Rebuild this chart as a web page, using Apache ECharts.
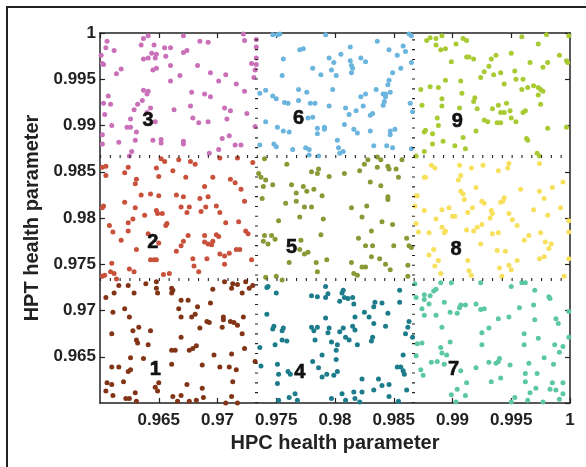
<!DOCTYPE html>
<html>
<head>
<meta charset="utf-8">
<script src="https://cdn.jsdelivr.net/npm/echarts@6/dist/echarts.min.js"></script>
<style>
  html, body { margin: 0; padding: 0; background: #fff; }
  #health-chart { width: 586px; height: 467px; }
</style>
</head>
<body>
<div id="health-chart"></div>
<script>
// points, one array per operating region [HPC, HPT]
const region1 = [[0.9616,0.9727],[0.9624,0.9727],[0.9639,0.9729],[0.9648,0.9731],[0.9648,0.9724],[0.9649,0.9719],[0.9629,0.9719],[0.9612,0.9719],[0.9605,0.9714],[0.9661,0.9724],[0.9662,0.9722],[0.9661,0.9719],[0.9669,0.9711],[0.9675,0.9711],[0.9667,0.9702],[0.9683,0.9704],[0.9681,0.9696],[0.9678,0.9693],[0.9669,0.9693],[0.9696,0.9723],[0.9706,0.9731],[0.9713,0.9729],[0.9712,0.9724],[0.9717,0.9728],[0.9724,0.9731],[0.9730,0.9727],[0.9727,0.9724],[0.9721,0.9719],[0.9694,0.9708],[0.9621,0.9702],[0.9625,0.9693],[0.9611,0.9698],[0.9691,0.9688],[0.9693,0.9687],[0.9685,0.9681],[0.9705,0.9693],[0.9705,0.9690],[0.9704,0.9682],[0.9711,0.9688],[0.9714,0.9687],[0.9717,0.9684],[0.9722,0.9693],[0.9721,0.9675],[0.9723,0.9659],[0.9633,0.9682],[0.9628,0.9678],[0.9643,0.9678],[0.9631,0.9668],[0.9632,0.9665],[0.9641,0.9663],[0.9669,0.9671],[0.9610,0.9675],[0.9661,0.9657],[0.9664,0.9657],[0.9676,0.9657],[0.9679,0.9659],[0.9682,0.9662],[0.9697,0.9652],[0.9712,0.9653],[0.9732,0.9645],[0.9626,0.9649],[0.9637,0.9648],[0.9661,0.9642],[0.9687,0.9641],[0.9610,0.9639],[0.9616,0.9639],[0.9702,0.9639],[0.9710,0.9639],[0.9716,0.9636],[0.9626,0.9636],[0.9624,0.9634],[0.9620,0.9623],[0.9606,0.9622],[0.9610,0.9620],[0.9605,0.9613],[0.9611,0.9608],[0.9622,0.9605],[0.9625,0.9605],[0.9630,0.9611],[0.9631,0.9602],[0.9647,0.9617],[0.9649,0.9613],[0.9650,0.9622],[0.9662,0.9607],[0.9669,0.9608],[0.9666,0.9602],[0.9674,0.9620],[0.9687,0.9616],[0.9688,0.9606],[0.9682,0.9603],[0.9676,0.9602],[0.9712,0.9607],[0.9713,0.9623],[0.9707,0.9600],[0.9717,0.9600]];
const region2 = [[0.9602,0.9855],[0.9605,0.9856],[0.9605,0.9846],[0.9621,0.9849],[0.9624,0.9855],[0.9630,0.9837],[0.9631,0.9842],[0.9648,0.9854],[0.9652,0.9864],[0.9655,0.9861],[0.9650,0.9845],[0.9667,0.9863],[0.9677,0.9861],[0.9681,0.9858],[0.9662,0.9851],[0.9673,0.9844],[0.9689,0.9834],[0.9696,0.9844],[0.9702,0.9865],[0.9717,0.9865],[0.9730,0.9860],[0.9711,0.9842],[0.9715,0.9838],[0.9720,0.9831],[0.9723,0.9818],[0.9692,0.9823],[0.9685,0.9821],[0.9671,0.9823],[0.9665,0.9825],[0.9650,0.9824],[0.9643,0.9826],[0.9635,0.9825],[0.9621,0.9817],[0.9630,0.9811],[0.9603,0.9813],[0.9602,0.9811],[0.9638,0.9803],[0.9648,0.9808],[0.9649,0.9805],[0.9653,0.9805],[0.9669,0.9812],[0.9676,0.9812],[0.9674,0.9806],[0.9686,0.9807],[0.9690,0.9812],[0.9699,0.9813],[0.9702,0.9806],[0.9628,0.9799],[0.9624,0.9795],[0.9608,0.9792],[0.9611,0.9785],[0.9624,0.9786],[0.9657,0.9794],[0.9656,0.9792],[0.9641,0.9783],[0.9650,0.9773],[0.9675,0.9781],[0.9671,0.9775],[0.9689,0.9781],[0.9689,0.9774],[0.9692,0.9772],[0.9695,0.9771],[0.9696,0.9775],[0.9699,0.9782],[0.9701,0.9780],[0.9707,0.9795],[0.9718,0.9796],[0.9724,0.9786],[0.9726,0.9783],[0.9618,0.9776],[0.9631,0.9766],[0.9669,0.9770],[0.9665,0.9764],[0.9702,0.9761],[0.9710,0.9762],[0.9716,0.9766],[0.9719,0.9766],[0.9706,0.9759],[0.9691,0.9756],[0.9679,0.9756],[0.9680,0.9748],[0.9684,0.9742],[0.9706,0.9750],[0.9729,0.9755],[0.9643,0.9755],[0.9646,0.9755],[0.9648,0.9755],[0.9610,0.9751],[0.9625,0.9745],[0.9629,0.9742],[0.9609,0.9742],[0.9612,0.9740],[0.9602,0.9737],[0.9604,0.9738],[0.9614,0.9734],[0.9654,0.9739],[0.9659,0.9740]];
const region3 = [[0.9606,0.9991],[0.9605,0.9984],[0.9601,0.9976],[0.9602,0.9967],[0.9603,0.9966],[0.9612,0.9981],[0.9635,0.9987],[0.9637,0.9994],[0.9641,0.9997],[0.9646,0.9987],[0.9655,0.9984],[0.9660,0.9984],[0.9656,0.9975],[0.9644,0.9978],[0.9648,0.9977],[0.9647,0.9973],[0.9641,0.9973],[0.9637,0.9972],[0.9671,0.9997],[0.9685,0.9991],[0.9692,0.9990],[0.9671,0.9979],[0.9674,0.9981],[0.9660,0.9965],[0.9648,0.9962],[0.9645,0.9960],[0.9618,0.9961],[0.9614,0.9956],[0.9683,0.9965],[0.9668,0.9954],[0.9660,0.9948],[0.9694,0.9957],[0.9707,0.9955],[0.9701,0.9948],[0.9716,0.9945],[0.9723,0.9937],[0.9722,0.9999],[0.9723,0.9992],[0.9733,0.9993],[0.9733,0.9985],[0.9733,0.9973],[0.9729,0.9967],[0.9733,0.9966],[0.9732,0.9960],[0.9731,0.9952],[0.9678,0.9936],[0.9689,0.9934],[0.9694,0.9931],[0.9637,0.9938],[0.9641,0.9937],[0.9640,0.9934],[0.9607,0.9932],[0.9603,0.9924],[0.9609,0.9923],[0.9636,0.9927],[0.9632,0.9923],[0.9629,0.9917],[0.9643,0.9919],[0.9640,0.9914],[0.9663,0.9917],[0.9677,0.9921],[0.9706,0.9919],[0.9711,0.9916],[0.9725,0.9913],[0.9604,0.9912],[0.9626,0.9907],[0.9679,0.9908],[0.9684,0.9903],[0.9692,0.9904],[0.9647,0.9904],[0.9610,0.9900],[0.9623,0.9898],[0.9626,0.9898],[0.9708,0.9907],[0.9732,0.9899],[0.9631,0.9893],[0.9602,0.9890],[0.9616,0.9882],[0.9630,0.9884],[0.9645,0.9884],[0.9652,0.9885],[0.9652,0.9881],[0.9671,0.9883],[0.9671,0.9880],[0.9704,0.9886],[0.9710,0.9889],[0.9715,0.9879],[0.9720,0.9879],[0.9602,0.9880],[0.9627,0.9872],[0.9625,0.9867],[0.9693,0.9870],[0.9701,0.9874]];
const region4 = [[0.9742,0.9725],[0.9743,0.9726],[0.9750,0.9719],[0.9792,0.9726],[0.9794,0.9718],[0.9792,0.9714],[0.9780,0.9716],[0.9785,0.9715],[0.9807,0.9722],[0.9806,0.9719],[0.9804,0.9710],[0.9808,0.9714],[0.9811,0.9713],[0.9815,0.9714],[0.9816,0.9707],[0.9834,0.9709],[0.9833,0.9704],[0.9840,0.9708],[0.9855,0.9722],[0.9855,0.9709],[0.9845,0.9697],[0.9825,0.9698],[0.9829,0.9693],[0.9817,0.9693],[0.9833,0.9686],[0.9843,0.9683],[0.9863,0.9688],[0.9862,0.9682],[0.9860,0.9675],[0.9866,0.9671],[0.9742,0.9696],[0.9747,0.9680],[0.9748,0.9683],[0.9755,0.9678],[0.9756,0.9681],[0.9755,0.9668],[0.9759,0.9667],[0.9749,0.9663],[0.9736,0.9660],[0.9780,0.9682],[0.9782,0.9678],[0.9785,0.9682],[0.9783,0.9668],[0.9792,0.9692],[0.9795,0.9681],[0.9794,0.9676],[0.9797,0.9666],[0.9802,0.9663],[0.9801,0.9657],[0.9804,0.9677],[0.9807,0.9681],[0.9809,0.9671],[0.9812,0.9668],[0.9815,0.9683],[0.9817,0.9679],[0.9819,0.9663],[0.9831,0.9667],[0.9832,0.9671],[0.9789,0.9652],[0.9801,0.9647],[0.9781,0.9645],[0.9786,0.9638],[0.9793,0.9631],[0.9799,0.9630],[0.9802,0.9634],[0.9789,0.9628],[0.9751,0.9642],[0.9752,0.9631],[0.9737,0.9640],[0.9751,0.9621],[0.9760,0.9634],[0.9762,0.9631],[0.9858,0.9652],[0.9853,0.9639],[0.9856,0.9639],[0.9858,0.9635],[0.9859,0.9631],[0.9823,0.9626],[0.9837,0.9626],[0.9840,0.9619],[0.9846,0.9620],[0.9833,0.9614],[0.9861,0.9614],[0.9766,0.9610],[0.9761,0.9606],[0.9752,0.9603],[0.9768,0.9603],[0.9797,0.9605],[0.9806,0.9610],[0.9809,0.9603],[0.9816,0.9612],[0.9823,0.9612],[0.9817,0.9605],[0.9821,0.9601],[0.9846,0.9607],[0.9854,0.9602]];
const region5 = [[0.9740,0.9864],[0.9759,0.9858],[0.9780,0.9850],[0.9785,0.9848],[0.9786,0.9853],[0.9795,0.9845],[0.9808,0.9848],[0.9821,0.9851],[0.9825,0.9858],[0.9828,0.9863],[0.9836,0.9866],[0.9839,0.9863],[0.9836,0.9855],[0.9845,0.9856],[0.9846,0.9853],[0.9852,0.9853],[0.9857,0.9863],[0.9854,0.9844],[0.9830,0.9839],[0.9839,0.9835],[0.9845,0.9823],[0.9845,0.9820],[0.9735,0.9848],[0.9737,0.9844],[0.9741,0.9841],[0.9739,0.9834],[0.9747,0.9836],[0.9763,0.9836],[0.9773,0.9834],[0.9776,0.9829],[0.9782,0.9831],[0.9767,0.9827],[0.9789,0.9824],[0.9738,0.9821],[0.9758,0.9816],[0.9767,0.9818],[0.9774,0.9812],[0.9780,0.9812],[0.9770,0.9801],[0.9790,0.9799],[0.9752,0.9797],[0.9814,0.9811],[0.9827,0.9813],[0.9823,0.9801],[0.9840,0.9796],[0.9849,0.9793],[0.9831,0.9786],[0.9788,0.9782],[0.9740,0.9781],[0.9746,0.9781],[0.9739,0.9775],[0.9743,0.9772],[0.9749,0.9777],[0.9771,0.9776],[0.9770,0.9766],[0.9774,0.9761],[0.9777,0.9763],[0.9784,0.9752],[0.9793,0.9755],[0.9761,0.9752],[0.9820,0.9778],[0.9826,0.9770],[0.9832,0.9770],[0.9850,0.9770],[0.9861,0.9778],[0.9863,0.9770],[0.9865,0.9768],[0.9831,0.9758],[0.9838,0.9756],[0.9814,0.9752],[0.9823,0.9747],[0.9826,0.9747],[0.9843,0.9750],[0.9847,0.9744],[0.9862,0.9749],[0.9785,0.9742],[0.9816,0.9740],[0.9819,0.9738],[0.9750,0.9737],[0.9741,0.9736],[0.9755,0.9733],[0.9862,0.9737]];
const region6 = [[0.9747,0.9998],[0.9751,0.9998],[0.9753,0.9999],[0.9792,0.9998],[0.9863,0.9999],[0.9865,0.9997],[0.9770,0.9982],[0.9773,0.9983],[0.9756,0.9972],[0.9755,0.9954],[0.9781,0.9962],[0.9788,0.9955],[0.9795,0.9973],[0.9799,0.9968],[0.9805,0.9977],[0.9813,0.9985],[0.9813,0.9970],[0.9814,0.9965],[0.9815,0.9962],[0.9814,0.9957],[0.9822,0.9973],[0.9826,0.9969],[0.9797,0.9960],[0.9801,0.9954],[0.9836,0.9991],[0.9846,0.9982],[0.9853,0.9976],[0.9858,0.9986],[0.9860,0.9980],[0.9865,0.9968],[0.9856,0.9962],[0.9849,0.9957],[0.9846,0.9949],[0.9845,0.9944],[0.9847,0.9936],[0.9843,0.9934],[0.9835,0.9939],[0.9841,0.9934],[0.9843,0.9931],[0.9842,0.9926],[0.9841,0.9922],[0.9736,0.9935],[0.9741,0.9938],[0.9747,0.9932],[0.9750,0.9929],[0.9769,0.9939],[0.9776,0.9936],[0.9769,0.9927],[0.9757,0.9925],[0.9760,0.9924],[0.9779,0.9924],[0.9783,0.9924],[0.9798,0.9939],[0.9795,0.9921],[0.9822,0.9931],[0.9826,0.9934],[0.9824,0.9921],[0.9818,0.9916],[0.9809,0.9919],[0.9812,0.9912],[0.9830,0.9911],[0.9832,0.9913],[0.9864,0.9924],[0.9866,0.9915],[0.9741,0.9904],[0.9751,0.9898],[0.9756,0.9894],[0.9761,0.9893],[0.9777,0.9908],[0.9781,0.9909],[0.9785,0.9897],[0.9785,0.9891],[0.9791,0.9898],[0.9791,0.9896],[0.9808,0.9901],[0.9816,0.9896],[0.9819,0.9892],[0.9830,0.9894],[0.9847,0.9894],[0.9851,0.9896],[0.9847,0.9890],[0.9802,0.9884],[0.9803,0.9876],[0.9807,0.9872],[0.9804,0.9870],[0.9736,0.9879],[0.9748,0.9880],[0.9750,0.9877],[0.9764,0.9874],[0.9775,0.9876],[0.9778,0.9874],[0.9778,0.9868],[0.9786,0.9867],[0.9833,0.9878],[0.9844,0.9878],[0.9849,0.9876],[0.9865,0.9875]];
const region7 = [[0.9868,0.9729],[0.9890,0.9730],[0.9899,0.9730],[0.9924,0.9730],[0.9950,0.9726],[0.9959,0.9730],[0.9962,0.9730],[0.9886,0.9723],[0.9884,0.9721],[0.9876,0.9717],[0.9881,0.9716],[0.9869,0.9714],[0.9876,0.9712],[0.9880,0.9707],[0.9893,0.9709],[0.9874,0.9702],[0.9876,0.9695],[0.9886,0.9695],[0.9898,0.9698],[0.9904,0.9697],[0.9906,0.9703],[0.9907,0.9706],[0.9911,0.9706],[0.9920,0.9707],[0.9924,0.9701],[0.9927,0.9702],[0.9957,0.9703],[0.9969,0.9706],[0.9982,0.9715],[0.9983,0.9713],[0.9970,0.9722],[0.9939,0.9691],[0.9948,0.9693],[0.9970,0.9690],[0.9988,0.9691],[0.9990,0.9686],[0.9891,0.9682],[0.9931,0.9681],[0.9925,0.9676],[0.9961,0.9675],[0.9999,0.9699],[0.9999,0.9671],[0.9973,0.9670],[0.9870,0.9664],[0.9874,0.9665],[0.9869,0.9651],[0.9890,0.9660],[0.9891,0.9654],[0.9895,0.9652],[0.9898,0.9666],[0.9925,0.9663],[0.9961,0.9663],[0.9987,0.9663],[0.9994,0.9661],[0.9991,0.9655],[0.9882,0.9644],[0.9887,0.9645],[0.9893,0.9642],[0.9920,0.9638],[0.9931,0.9644],[0.9937,0.9643],[0.9939,0.9645],[0.9940,0.9648],[0.9949,0.9641],[0.9965,0.9643],[0.9978,0.9649],[0.9986,0.9642],[0.9873,0.9636],[0.9875,0.9630],[0.9907,0.9635],[0.9912,0.9622],[0.9933,0.9623],[0.9941,0.9627],[0.9962,0.9632],[0.9972,0.9632],[0.9962,0.9623],[0.9985,0.9622],[0.9994,0.9622],[0.9988,0.9614],[0.9983,0.9615],[0.9971,0.9616],[0.9966,0.9611],[0.9904,0.9615],[0.9899,0.9609],[0.9911,0.9608],[0.9903,0.9601],[0.9950,0.9601],[0.9953,0.9606],[0.9964,0.9603],[0.9977,0.9601],[0.9991,0.9604],[0.9994,0.9610]];
const region8 = [[0.9882,0.9857],[0.9885,0.9854],[0.9877,0.9844],[0.9876,0.9844],[0.9906,0.9857],[0.9916,0.9854],[0.9926,0.9857],[0.9948,0.9859],[0.9947,0.9854],[0.9939,0.9851],[0.9974,0.9859],[0.9907,0.9846],[0.9905,0.9841],[0.9920,0.9833],[0.9907,0.9829],[0.9909,0.9826],[0.9910,0.9820],[0.9870,0.9824],[0.9876,0.9808],[0.9897,0.9811],[0.9891,0.9809],[0.9900,0.9802],[0.9902,0.9802],[0.9886,0.9799],[0.9891,0.9790],[0.9871,0.9785],[0.9880,0.9784],[0.9893,0.9784],[0.9894,0.9786],[0.9912,0.9787],[0.9918,0.9786],[0.9921,0.9790],[0.9925,0.9793],[0.9913,0.9806],[0.9917,0.9811],[0.9925,0.9818],[0.9927,0.9816],[0.9933,0.9808],[0.9934,0.9805],[0.9932,0.9800],[0.9941,0.9817],[0.9943,0.9818],[0.9944,0.9822],[0.9948,0.9805],[0.9951,0.9798],[0.9955,0.9792],[0.9958,0.9831],[0.9974,0.9829],[0.9978,0.9821],[0.9985,0.9833],[0.9994,0.9839],[0.9992,0.9811],[0.9969,0.9809],[0.9981,0.9803],[0.9999,0.9797],[0.9999,0.9785],[0.9965,0.9781],[0.9975,0.9784],[0.9979,0.9774],[0.9984,0.9772],[0.9982,0.9767],[0.9961,0.9776],[0.9934,0.9783],[0.9939,0.9784],[0.9924,0.9772],[0.9938,0.9765],[0.9945,0.9764],[0.9884,0.9766],[0.9888,0.9754],[0.9880,0.9760],[0.9885,0.9748],[0.9890,0.9740],[0.9913,0.9754],[0.9914,0.9743],[0.9916,0.9738],[0.9940,0.9746],[0.9942,0.9737],[0.9948,0.9749],[0.9950,0.9744],[0.9955,0.9754],[0.9974,0.9756],[0.9978,0.9758],[0.9999,0.9756],[0.9995,0.9737],[0.9869,0.9824],[0.9868,0.9813],[0.9869,0.9794]];
const region9 = [[0.9878,0.9992],[0.9881,0.9995],[0.9886,0.9994],[0.9891,0.9997],[0.9886,0.9987],[0.9890,0.9982],[0.9894,0.9983],[0.9903,0.9988],[0.9909,0.9994],[0.9912,0.9992],[0.9899,0.9969],[0.9912,0.9974],[0.9914,0.9974],[0.9918,0.9972],[0.9924,0.9952],[0.9927,0.9958],[0.9931,0.9964],[0.9933,0.9972],[0.9937,0.9976],[0.9935,0.9955],[0.9941,0.9957],[0.9950,0.9978],[0.9959,0.9996],[0.9973,0.9988],[0.9980,0.9998],[0.9999,0.9997],[0.9991,0.9976],[0.9997,0.9970],[0.9998,0.9968],[0.9966,0.9968],[0.9981,0.9968],[0.9977,0.9963],[0.9953,0.9959],[0.9954,0.9950],[0.9944,0.9945],[0.9960,0.9950],[0.9959,0.9939],[0.9964,0.9941],[0.9969,0.9943],[0.9973,0.9941],[0.9975,0.9939],[0.9977,0.9937],[0.9973,0.9933],[0.9975,0.9923],[0.9894,0.9949],[0.9907,0.9948],[0.9908,0.9935],[0.9918,0.9926],[0.9919,0.9930],[0.9873,0.9939],[0.9881,0.9942],[0.9888,0.9941],[0.9891,0.9929],[0.9891,0.9921],[0.9874,0.9922],[0.9906,0.9919],[0.9921,0.9918],[0.9934,0.9918],[0.9939,0.9922],[0.9941,0.9914],[0.9946,0.9924],[0.9944,0.9914],[0.9949,0.9916],[0.9950,0.9908],[0.9954,0.9904],[0.9960,0.9914],[0.9962,0.9916],[0.9927,0.9906],[0.9930,0.9904],[0.9938,0.9903],[0.9941,0.9903],[0.9887,0.9908],[0.9888,0.9900],[0.9877,0.9895],[0.9876,0.9893],[0.9883,0.9891],[0.9909,0.9887],[0.9920,0.9894],[0.9963,0.9886],[0.9964,0.9884],[0.9981,0.9897],[0.9997,0.9898],[0.9892,0.9883],[0.9883,0.9880],[0.9902,0.9878],[0.9911,0.9875],[0.9876,0.9872],[0.9869,0.9867],[0.9972,0.9870],[0.9974,0.9867]];

const regions = [region1, region2, region3, region4, region5, region6, region7, region8, region9];
const regionColors = ['#823416', '#c9503a', '#c970b8', '#1d7c8b', '#879a36', '#6ab4dd', '#5cc8a1', '#f6e05c', '#a8ca32'];

// region number labels
const labelText = ['1', '2', '3', '4', '5', '6', '7', '8', '9'];
const labelX = [0.9647, 0.9645, 0.9641, 0.9770, 0.9763, 0.9769, 0.9901, 0.9903, 0.9904];
const labelY = [0.9636, 0.9773, 0.9905, 0.9633, 0.9768, 0.9908, 0.9636, 0.9766, 0.9904];

// region boundaries
const splits = [0.97333, 0.98667];

const axisMin = 0.96;
const axisMax = 1;
const tickStep = 0.005;

const chart = echarts.init(document.getElementById('health-chart'));

const fontFamily = '"Liberation Sans", Arial, sans-serif';
const ink = '#222';

function axisBase(pos, withLabels) {
  return {
    type: 'value',
    position: pos,
    min: axisMin,
    max: axisMax,
    interval: tickStep,
    axisLine: { show: true, onZero: false, lineStyle: { color: ink, width: 1.5 } },
    axisTick: { show: true, inside: true, length: 5, lineStyle: { color: ink, width: 1.2 } },
    splitLine: { show: false },
    axisLabel: {
      show: withLabels,
      showMinLabel: false,
      fontFamily: fontFamily,
      fontWeight: 'bold',
      fontSize: 17,
      color: ink,
      formatter: v => String(+v.toFixed(3))
    }
  };
}

const xMain = axisBase('bottom', true);
xMain.axisLabel.margin = 9;
xMain.name = 'HPC health parameter';
xMain.nameLocation = 'middle';
xMain.nameGap = 22;
xMain.nameTextStyle = { fontFamily: fontFamily, fontWeight: 'bold', fontSize: 20, color: ink };

const yMain = axisBase('left', true);
yMain.axisLabel.margin = 4;
yMain.name = 'HPT health parameter';
yMain.nameLocation = 'middle';
yMain.nameGap = 49;
yMain.nameTextStyle = { fontFamily: fontFamily, fontWeight: 'bold', fontSize: 20, color: ink };

const series = regions.map((pts, i) => ({
  type: 'scatter',
  name: 'region ' + (i + 1),
  xAxisIndex: 0,
  yAxisIndex: 0,
  data: pts,
  symbol: 'circle',
  symbolSize: 5,
  itemStyle: { color: regionColors[i], opacity: 1 },
  silent: true
}));

const splitDash = { color: ink, width: 3, type: [1.1, 8.7] };

series.push({
  type: 'scatter',
  name: 'labels',
  xAxisIndex: 0,
  yAxisIndex: 0,
  symbolSize: 1,
  itemStyle: { color: 'rgba(0,0,0,0)' },
  silent: true,
  z: 5,
  data: labelText.map((t, i) => [labelX[i], labelY[i], t]),
  label: {
    show: true,
    position: 'inside',
    formatter: p => p.value[2],
    fontFamily: fontFamily,
    fontWeight: 'bold',
    fontSize: 20,
    color: '#111',
    opacity: 1,
    textBorderColor: '#111',
    textBorderWidth: 0.6
  },
  markLine: {
    silent: true,
    precision: 5,
    symbol: ['none', 'none'],
    label: { show: false },
    lineStyle: splitDash,
    data: splits.map(v => ({ xAxis: v })).concat(splits.map(v => ({ yAxis: v })))
  }
});

const option = {
  backgroundColor: '#fff',
  animation: false,
  grid: { left: 100, right: 16, top: 33, bottom: 64 },
  xAxis: [xMain, axisBase('top', false)],
  yAxis: [yMain, axisBase('right', false)],
  graphic: [{
    type: 'rect',
    shape: { x: 7, y: 7, width: 640, height: 520 },
    style: { fill: 'none', stroke: ink, lineWidth: 2 },
    silent: true
  }],
  series: series
};

chart.setOption(option);
</script>
</body>
</html>
